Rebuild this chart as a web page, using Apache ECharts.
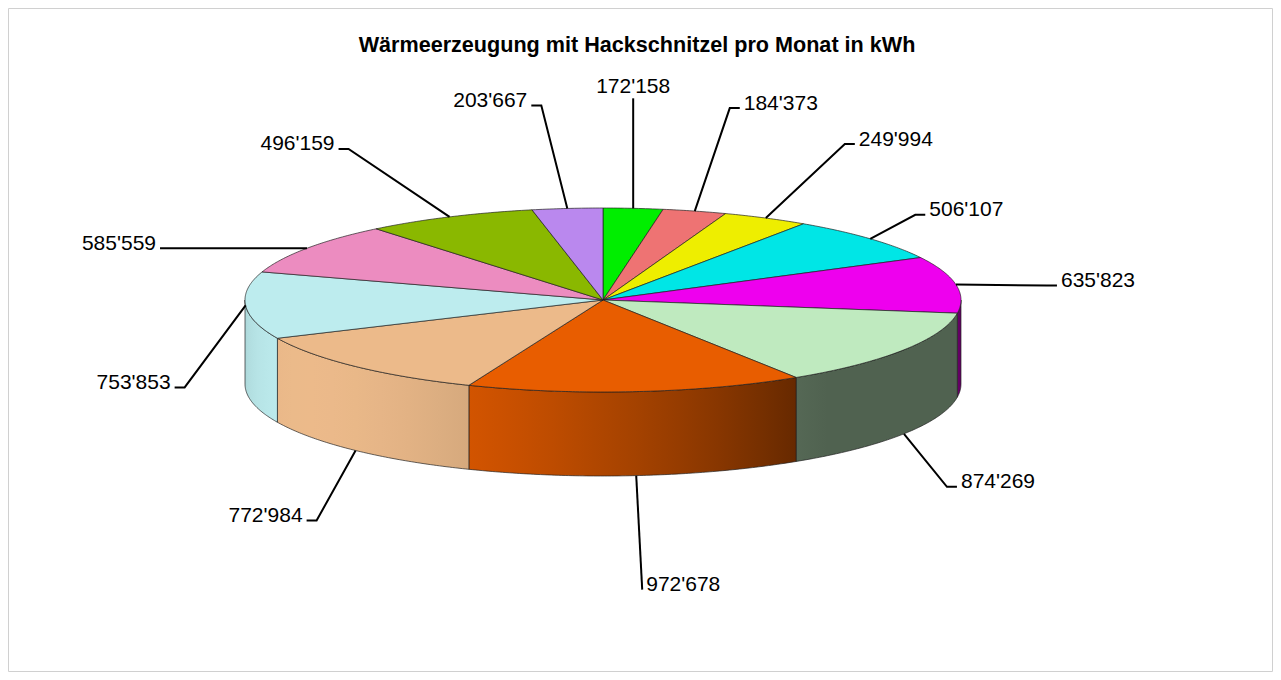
<!DOCTYPE html>
<html><head><meta charset="utf-8">
<script src="https://cdn.jsdelivr.net/npm/echarts@6/dist/echarts.min.js"></script>
<style>html,body{margin:0;padding:0;background:#fff}#c{width:1281px;height:680px}</style>
</head><body><div id="c"></div>
<script>
// ---- data ----
const chartTitle = 'Wärmeerzeugung mit Hackschnitzel pro Monat in kWh';
const months = ['Jul', 'Aug', 'Sep', 'Okt', 'Nov', 'Dez', 'Jan', 'Feb', 'Mär', 'Apr', 'Mai', 'Jun'];
const values = [172158, 184373, 249994, 506107, 635823, 874269, 972678, 772984, 753853, 585559, 496159, 203667];

// ---- styles / layout (kept apart from data) ----
const topColors = ['#00ee00', '#ee7373', '#eeee00', '#00e6e6', '#ee00ee', '#bfeabf',
                   '#e85d00', '#ecba8a', '#bdecee', '#ec8cc0', '#8ab800', '#ba88ee'];
// leader line: [dx, dy, horizontal segment] from anchor on the pie rim
const labelLayout = [[0, -110, 0], [35, -103, 10], [79, -74, 10], [45, -24, 10], [91, 1, 10], [43, 53, 10],
                     [6, 114, 0], [-39, 70, 10], [-61, 82, 10], [-137, 0, 10], [-101, -68, 10], [-26, -103, 10]];
const geo = {cx: 603, cy: 300, rx: 358, ry: 92, h: 84};
const FONT = '"Liberation Sans", Arial, sans-serif';

const total = values.reduce((a, b) => a + b, 0);
const cum = [];
values.reduce((acc, v, i) => { cum[i] = acc; return acc + v; }, 0);
const rows = values.map((v, i) => [v, cum[i]]);

function P(t, dy) {
  return [geo.cx + geo.rx * Math.sin(t), geo.cy - geo.ry * Math.cos(t) + (dy || 0)];
}
function arc(a0, a1, dy) {
  const n = Math.max(2, Math.ceil((a1 - a0) / 0.01));
  const pts = [];
  for (let i = 0; i <= n; i++) pts.push(P(a0 + (a1 - a0) * i / n, dy));
  return pts;
}
function angles(api) {
  const v = api.value(0), s = api.value(1);
  return [s / total * 2 * Math.PI, (s + v) / total * 2 * Math.PI];
}
function hexToRgb(h) {
  const n = parseInt(h.slice(1), 16);
  return [(n >> 16) & 255, (n >> 8) & 255, n & 255];
}
function light(t) {
  const d = t - 235 * Math.PI / 180;
  return 0.42 + 0.58 * Math.max(0, Math.cos(d));
}
function shade(hex, b) {
  const c = hexToRgb(hex).map(x => Math.round(Math.min(255, x * b)));
  return 'rgb(' + c.join(',') + ')';
}
function fmt(v) { return String(v).replace(/\B(?=(\d{3})+(?!\d))/g, "'"); }

const OUT = 'rgba(30,30,30,0.85)';

const option = {
  backgroundColor: '#ffffff',
  animation: false,
  graphic: [
    {type: 'rect', shape: {x: 8.5, y: 8.5, width: 1264, height: 663}, style: {fill: 'none', stroke: '#d0d0d0', lineWidth: 1}, silent: true},
    {type: 'text', x: 637, y: 44, style: {text: chartTitle, fill: '#000', font: 'bold 21.6px ' + FONT, textAlign: 'center', textVerticalAlign: 'middle'}}
  ],
  series: [
    { // side walls
      type: 'custom', coordinateSystem: 'none', data: rows, z: 1,
      renderItem: function (params, api) {
        const [a0, a1] = angles(api);
        const b0 = Math.max(a0, Math.PI / 2), b1 = Math.min(a1, 1.5 * Math.PI);
        if (b1 <= b0) return {type: 'group', children: []};
        const pts = arc(b0, b1, 0).concat(arc(b0, b1, geo.h).reverse());
        const base = topColors[params.dataIndex];
        const xmin = P(b1)[0], xmax = P(b0)[0];
        const stops = [];
        const N = 8;
        for (let i = 0; i <= N; i++) {
          const t = b1 - (b1 - b0) * i / N;
          const off = xmax > xmin ? (P(t)[0] - xmin) / (xmax - xmin) : i / N;
          stops.push({offset: Math.min(1, Math.max(0, off)), color: shade(base, light(t))});
        }
        return {
          type: 'polygon', shape: {points: pts},
          style: {fill: {type: 'linear', x: 0, y: 0, x2: 1, y2: 0, colorStops: stops}, stroke: OUT, lineWidth: 0.8}
        };
      }
    },
    { // top faces
      type: 'custom', coordinateSystem: 'none', data: rows, z: 2,
      renderItem: function (params, api) {
        const [a0, a1] = angles(api);
        const pts = [[geo.cx, geo.cy]].concat(arc(a0, a1, 0));
        return {type: 'polygon', shape: {points: pts},
                style: {fill: topColors[params.dataIndex], stroke: OUT, lineWidth: 0.8}};
      }
    },
    { // labels with leader lines
      type: 'custom', coordinateSystem: 'none', data: rows, z: 3,
      renderItem: function (params, api) {
        const [a0, a1] = angles(api);
        const m = (a0 + a1) / 2;
        const anc = P(m, Math.cos(m) < -0.3 ? geo.h : 0);
        const L = labelLayout[params.dataIndex];
        const el = [anc[0] + L[0], anc[1] + L[1]];
        const dir = L[0] >= 0 ? 1 : -1;
        const end = [el[0] + dir * L[2], el[1]];
        let tx, ty, align;
        if (L[0] === 0 && L[1] < 0) { tx = el[0]; ty = el[1] - 13; align = 'center'; }
        else { tx = end[0] + dir * 4; ty = end[1] - 6; align = dir > 0 ? 'left' : 'right'; }
        return {type: 'group', children: [
          {type: 'polyline', shape: {points: [anc, el, end]}, style: {stroke: '#000', lineWidth: 2, fill: null}},
          {type: 'text', x: tx, y: ty, style: {text: fmt(api.value(0)), fill: '#000', font: '21px ' + FONT,
            textAlign: align, textVerticalAlign: 'middle'}}
        ]};
      }
    }
  ]
};
const chart = echarts.init(document.getElementById('c'), null, {renderer: 'svg'});
chart.setOption(option);
</script></body></html>
